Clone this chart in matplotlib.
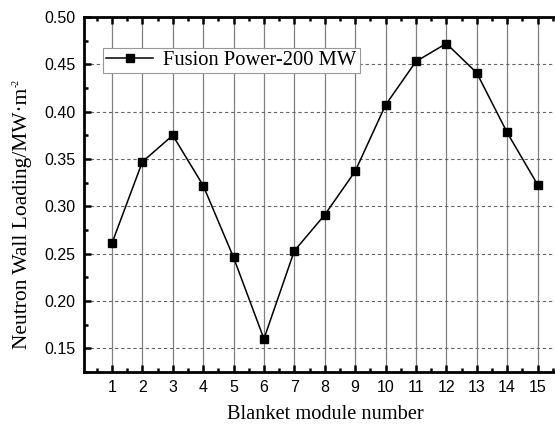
import matplotlib
matplotlib.use("Agg")
import matplotlib.pyplot as plt
from matplotlib.ticker import MultipleLocator

modules = [1, 2, 3, 4, 5, 6, 7, 8, 9, 10, 11, 12, 13, 14, 15]
wall_loading = [0.261, 0.347, 0.375, 0.322, 0.246, 0.160, 0.253, 0.291,
                0.337, 0.407, 0.453, 0.472, 0.441, 0.378, 0.323]
series_label = "Fusion Power-200 MW"

SERIF = ["Liberation Serif", "DejaVu Serif"]
SANS = ["Liberation Sans", "DejaVu Sans"]

fig = plt.figure(figsize=(5.55, 4.25), dpi=100)
ax = fig.add_axes([84 / 555, 1 - 372 / 425, (555 - 84) / 555 + 0.02, (372 - 17) / 425])

ax.plot(modules, wall_loading, color="black", lw=1.1, marker="s", ms=5.5,
        mfc="black", mec="black", label=series_label)

ax.set_xlim(0.08, 15.94)
ax.set_ylim(0.125, 0.5)
ax.xaxis.set_minor_locator(MultipleLocator(0.5))
ax.yaxis.set_major_locator(MultipleLocator(0.05))
ax.yaxis.set_minor_locator(MultipleLocator(0.025))
ax.set_xticks(modules)

for x in modules:
    ax.axvline(x, color="#808080", lw=0.9, zorder=0)
for y in [0.15, 0.20, 0.25, 0.30, 0.35, 0.40, 0.45]:
    ax.axhline(y, color="#666666", lw=0.8, ls=(0, (3, 2.5)), zorder=0)

ax.tick_params(which="both", direction="in", top=True, right=False, width=1.8)
ax.tick_params(which="major", length=5, labelsize=11.5, pad=6)
ax.tick_params(which="minor", length=3)
for lab in ax.get_xticklabels() + ax.get_yticklabels():
    lab.set_family(SANS)
ax.yaxis.set_major_formatter(plt.FuncFormatter(lambda v, _: f"{v:.2f}"))

for side in ["left", "bottom", "top"]:
    ax.spines[side].set_linewidth(2)
ax.spines["right"].set_visible(False)

ax.set_xlabel("Blanket module number", family=SERIF, fontsize=14.7)
ax.xaxis.set_label_coords(0.5, -0.094)
ylab = ax.set_ylabel("Neutron Wall Loading/MW·m", family=SERIF, fontsize=15.5)
ax.yaxis.set_label_coords(-0.108, 0.432)

# small "-2" exponent placed just past the end of the rotated label
fig.canvas.draw()
bb = ylab.get_window_extent()
fig.text(bb.x0 - 1, bb.y1 + 1, "-2", family=SERIF, fontsize=7, rotation=90,
         ha="left", va="bottom", transform=None)

leg = ax.legend(loc="upper left", bbox_to_anchor=(0.039, 0.913), frameon=True,
                fancybox=False, edgecolor="#999999", framealpha=1,
                prop={"family": SERIF, "size": 14.8}, handlelength=2.3,
                borderpad=0.15, handletextpad=0.5, borderaxespad=0)
leg.get_frame().set_linewidth(0.8)

fig.savefig("out.png", dpi=100)
